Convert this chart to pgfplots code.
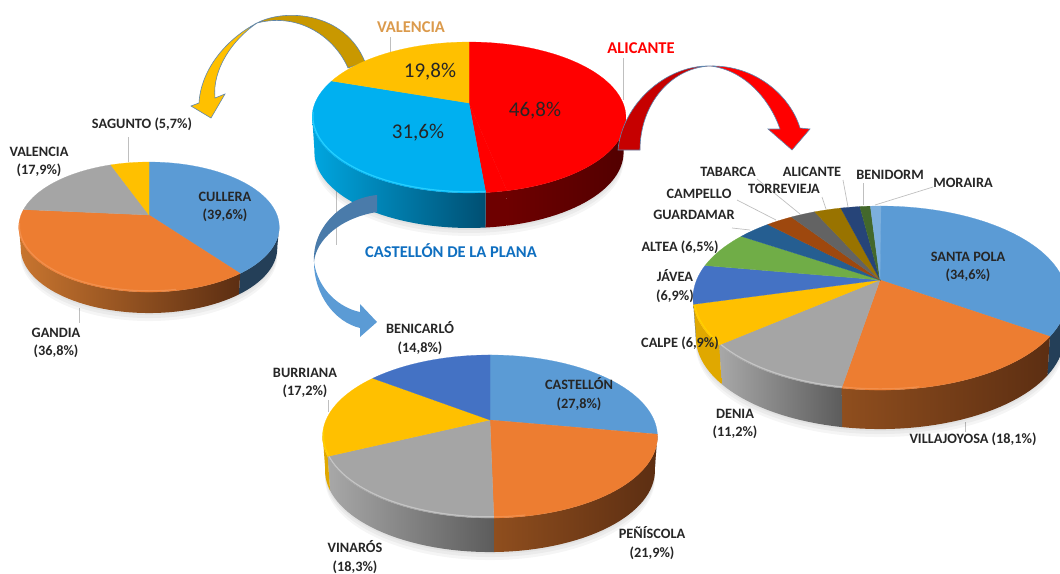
\documentclass[border=0pt]{standalone}
\usepackage{fontspec}
\setmainfont{Carlito}
\usepackage{pgfplots}
\usepackage{pgfplotstable}
\pgfplotsset{compat=1.18}

\definecolor{cBlue}{HTML}{5B9BD5}
\definecolor{cOrange}{HTML}{ED7D31}
\definecolor{cGray}{HTML}{A5A5A5}
\definecolor{cYellow}{HTML}{FFC000}
\definecolor{cRoyal}{HTML}{4472C4}
\definecolor{cGreen}{HTML}{70AD47}
\definecolor{cSteel}{HTML}{255E91}
\definecolor{cRust}{HTML}{9E480E}
\definecolor{cDGray}{HTML}{636363}
\definecolor{cOlive}{HTML}{997300}
\definecolor{cNavy}{HTML}{264478}
\definecolor{cDGreen}{HTML}{43682B}
\definecolor{cSky}{HTML}{7CAFDD}
\definecolor{cRed}{HTML}{FF0000}
\definecolor{cCyan}{HTML}{00B0F0}
\definecolor{wBlue}{HTML}{243F58}
\definecolor{wOrangeL}{HTML}{C8752F}
\definecolor{wOrangeM}{HTML}{8F4E1E}
\definecolor{wOrangeR}{HTML}{5C2E12}
\definecolor{wGrayL}{HTML}{A8A8A8}
\definecolor{wGrayR}{HTML}{5C5C5C}
\definecolor{wYellow}{HTML}{E0A800}
\definecolor{wRedL}{HTML}{6E0000}
\definecolor{wRedR}{HTML}{520000}
\definecolor{wCyanL}{HTML}{00A6E0}
\definecolor{wCyanR}{HTML}{004F72}
\definecolor{rBlue}{HTML}{5B9BD5}
\definecolor{rOrange}{HTML}{F28F4C}
\definecolor{rGray}{HTML}{C4C4C4}
\definecolor{rYellow}{HTML}{FFD000}
\definecolor{rCyan}{HTML}{25CFFF}
\definecolor{leader}{HTML}{BFBFBF}
\definecolor{txt}{HTML}{262626}
\definecolor{arrowline}{HTML}{5F86AE}
\definecolor{aGold}{HTML}{C99800}
\definecolor{aDRed}{HTML}{C60000}
\definecolor{aDBlue}{HTML}{4A7BAA}
\definecolor{hOrange}{HTML}{DB9A4C}
\definecolor{hBlue}{HTML}{0F6FC0}

% share, face, wall left, wall right, rim highlight
\pgfplotstableread{
share face wl wr rim
46.8 cRed wRedL wRedR cRed
1.8 cRed wRedL wRedL cRed
31.6 cCyan wCyanL wCyanR rCyan
19.8 cYellow wYellow wYellow rYellow
}\provincias
\pgfplotstableread{
share face wl wr rim
39.6 cBlue wBlue wBlue rBlue
36.8 cOrange wOrangeL wOrangeR rOrange
17.9 cGray wGrayL wGrayR rGray
5.7 cYellow wYellow wYellow rYellow
}\valencia
\pgfplotstableread{
share face wl wr rim
27.8 cBlue wBlue wBlue rBlue
21.9 cOrange wOrangeM wOrangeR rOrange
18.3 cGray wGrayL wGrayR rGray
17.2 cYellow wYellow wYellow rYellow
14.8 cRoyal cRoyal cRoyal cRoyal
}\castellon
\pgfplotstableread{
share face wl wr rim
34.6 cBlue wBlue wBlue rBlue
18.1 cOrange wOrangeM wOrangeR rOrange
11.2 cGray wGrayL wGrayR rGray
6.9 cYellow wYellow wYellow rYellow
6.9 cRoyal cRoyal cRoyal cRoyal
6.5 cGreen cGreen cGreen cGreen
3.5 cSteel cSteel cSteel cSteel
2.8 cRust cRust cRust cRust
2.6 cDGray cDGray cDGray cDGray
2.8 cOlive cOlive cOlive cOlive
2.0 cNavy cNavy cNavy cNavy
1.1 cDGreen cDGreen cDGreen cDGreen
1.1 cSky cSky cSky cSky
}\alicante

% point of the rim in perspective, #1 = degrees clockwise from the top
\newcommand\rimxy[1]{%
  \pgfmathsetmacro\ps{1/(1+\Pk*cos(#1))}%
  \pgfmathsetmacro\px{\Pax+\PA*sin(#1)*\ps}%
  \pgfmathsetmacro\py{\Pay-\PB*cos(#1)*\ps}%
}
% append arc: from, to, x shrink, y shift
\newcommand\addarc[4]{%
  \pgfmathtruncatemacro\stepn{max(1,ceil(abs(#2-#1)/2.5))}%
  \foreach \j in {0,...,\stepn}{%
    \pgfmathsetmacro\th{#1+(#2-#1)*(\j/\stepn)}%
    \rimxy{\th}%
    \pgfmathsetmacro\qx{\Pax+(\px-\Pax)*#3}%
    \pgfmathsetmacro\qy{\py+#4}%
    \xdef\coords{\coords (\qx,\qy)}%
  }%
}
% table, apex x, apex y, A, B, k, depth
\newcommand\drawpie[7]{%
  \def\Pax{#2}\def\Pay{#3}\def\PA{#4}\def\PB{#5}\def\Pk{#6}\def\Pd{#7}%
  % soft shadow
  \foreach \sh in {8,5,2}{%
    \pgfmathsetmacro\shy{\Pd+\sh}%
    \gdef\coords{}\addarc{0}{360}{0.985}{\shy}%
    \edef\temp{\noexpand\addplot[fill=black,fill opacity=0.04,draw=none,forget plot] coordinates {\coords} --cycle;}\temp
  }%
  \pgfplotstablegetrowsof{#1}\pgfmathtruncatemacro\nrows{\pgfplotsretval-1}%
  % walls, only between the two silhouette points
  \gdef\cum{0}%
  \foreach \i in {0,...,\nrows}{%
    \pgfplotstablegetelem{\i}{share}\of{#1}\edef\sv{\pgfplotsretval}%
    \pgfplotstablegetelem{\i}{wl}\of{#1}\edef\cl{\pgfplotsretval}%
    \pgfplotstablegetelem{\i}{wr}\of{#1}\edef\cr{\pgfplotsretval}%
    \pgfmathsetmacro\ta{\cum*3.6}%
    \pgfmathsetmacro\tb{(\cum+\sv)*3.6}%
    \pgfmathsetmacro\ca{max(\ta,100)}%
    \pgfmathsetmacro\cb{min(\tb,260)}%
    \pgfmathparse{\ca<\cb?1:0}%
    \ifdim\pgfmathresult pt>0.5pt
      \gdef\coords{}\addarc{\ca}{\cb}{1}{0}\addarc{\cb}{\ca}{0.985}{\Pd}%
      \edef\temp{\noexpand\addplot[left color=\cl,right color=\cr,draw=none,forget plot] coordinates {\coords} --cycle;}\temp
    \fi
    \pgfmathsetmacro\nc{\cum+\sv}\xdef\cum{\nc}%
  }%
  % faces and rim light
  \gdef\cum{0}%
  \foreach \i in {0,...,\nrows}{%
    \pgfplotstablegetelem{\i}{share}\of{#1}\edef\sv{\pgfplotsretval}%
    \pgfplotstablegetelem{\i}{face}\of{#1}\edef\cf{\pgfplotsretval}%
    \pgfplotstablegetelem{\i}{rim}\of{#1}\edef\cm{\pgfplotsretval}%
    \pgfmathsetmacro\ta{\cum*3.6}%
    \pgfmathsetmacro\tb{(\cum+\sv)*3.6}%
    \xdef\coords{(\Pax,\Pay)}\addarc{\ta}{\tb}{1}{0}%
    \edef\temp{\noexpand\addplot[fill=\cf,draw=\cf,line width=0.2pt,forget plot] coordinates {\coords} --cycle;}\temp
    \pgfmathsetmacro\ca{max(\ta,170)}%
    \pgfmathsetmacro\cb{min(\tb,262)}%
    \pgfmathparse{\ca<\cb?1:0}%
    \ifdim\pgfmathresult pt>0.5pt
      \gdef\coords{}\addarc{\ca}{\cb}{0.995}{-1.2}%
      \edef\temp{\noexpand\addplot[draw=\cm,line width=1.2pt,forget plot] coordinates {\coords};}\temp
    \fi
    \pgfmathsetmacro\nc{\cum+\sv}\xdef\cum{\nc}%
  }%
}
\newcommand\leader[4]{\addplot[leader,line width=0.7pt,forget plot] coordinates {(#1,#2) (#3,#4)};}
\newcommand\lab[3]{\node[txt,align=center,inner sep=0pt,font=\fontsize{14.3}{18.5}\selectfont\bfseries] at (#1,#2) {#3};}
\newcommand\pct[3]{\node[txt,inner sep=0pt,font=\fontsize{21}{23}\selectfont] at (#1,#2) {#3};}
\newcommand\head[4]{\node[#4,inner sep=0pt,font=\fontsize{16.5}{18}\selectfont\bfseries] at (#1,#2) {#3};}

\begin{document}
\begin{tikzpicture}
\begin{axis}[
    width=1060pt, height=573pt, scale only axis,
    xmin=0, xmax=1060, ymin=0, ymax=573,
    y dir=reverse,
    hide axis,
    name=main,
]
% leaders behind the pies
\leader{390}{37}{390}{52}
\leader{623}{58}{623}{100}
\leader{336}{190}{336}{245}
\leader{128}{137}{128}{162}
\leader{79}{308}{79}{323}
\leader{328}{400}{328}{412}
\leader{757}{179}{800}{214}
\leader{822}{197}{826}{209}
\leader{843}{180}{848}{207}
\leader{863}{183}{863}{205}
\leader{933}{187}{875}{205}
\leader{737}{200}{776}{220}
\leader{732}{228}{750}{230}
\leader{965}{422}{965}{432}

% yellow arrow goes under the big pie
\path[fill=cYellow,draw=arrowline,line width=0.6pt]
  (257,23) .. controls (228,38) and (201,68) .. (199,103) -- (191,106) -- (211,118) -- (225,94) -- (215,98)
  .. controls (212,70) and (232,40) .. (257,23) -- cycle;
\path[fill=aGold,draw=arrowline,line width=0.6pt]
  (257,23) .. controls (285,8) and (345,12) .. (365,62) -- (348,68)
  .. controls (335,38) and (300,12) .. (257,23) -- cycle;

\drawpie{\valencia}{149}{215}{128}{62.8}{0.185}{21}
\drawpie{\castellon}{490}{420}{164}{78.2}{0.2025}{34}
\drawpie{\alicante}{880}{280}{183.4}{88.5}{0.196}{39}
\drawpie{\provincias}{469}{103}{154}{72.7}{0.192}{35}

% red arrow
\path[fill=aDRed,draw=arrowline,line width=0.6pt]
  (618,150) .. controls (622,105) and (665,65) .. (710,66)
  .. controls (670,68) and (640,105) .. (640,150) -- cycle;
\path[fill=cRed,draw=arrowline,line width=0.6pt]
  (710,66) .. controls (755,65) and (790,95) .. (800,128) -- (810,129) -- (792,150) -- (768,129) -- (780,129)
  .. controls (770,100) and (745,70) .. (710,66) -- cycle;
% blue arrow
\path[fill=aDBlue]
  (377,195) .. controls (345,198) and (312,225) .. (314,262)
  .. controls (316,240) and (340,218) .. (377,212) -- cycle;
\path[fill=cBlue]
  (314,262) .. controls (314,295) and (335,322) .. (360,328) -- (360,337) -- (377,322) -- (360,304) -- (360,312)
  .. controls (340,308) and (318,290) .. (314,262) -- cycle;

% group names
\head{411}{27}{VALENCIA}{hOrange}
\head{641}{48}{ALICANTE}{red}
\head{451}{251}{CASTELLÓN DE LA PLANA}{hBlue}
\pct{430}{72}{19,8\%}
\pct{535}{111}{46,8\%}
\pct{418}{133}{31,6\%}

\lab{142}{124}{SAGUNTO (5,7\%)}
\lab{39}{162}{VALENCIA\\(17,9\%)}
\lab{225}{207}{CULLERA\\(39,6\%)}
\lab{56}{343}{GANDIA\\(36,8\%)}

\lab{420}{338}{BENICARLÓ\\(14,8\%)}
\lab{305}{383}{BURRIANA\\(17,2\%)}
\lab{579}{394}{CASTELLÓN\\(27,8\%)}
\lab{652}{543}{PEÑÍSCOLA\\(21,9\%)}
\lab{355}{557}{VINARÓS\\(18,3\%)}

\lab{968}{267}{SANTA POLA\\(34,6\%)}
\lab{728}{172}{TABARCA}
\lab{784}{189}{TORREVIEJA}
\lab{812}{172}{ALICANTE}
\lab{890}{175}{BENIDORM}
\lab{963}{183}{MORAIRA}
\lab{699}{194}{CAMPELLO}
\lab{694}{215}{GUARDAMAR}
\lab{680}{247}{ALTEA (6,5\%)}
\lab{675}{286}{JÁVEA\\(6,9\%)}
\lab{680}{343}{CALPE (6,9\%)}
\lab{735}{424}{DENIA\\(11,2\%)}
\lab{973}{439}{VILLAJOYOSA (18,1\%)}
\end{axis}
\pgfresetboundingbox
\path[use as bounding box] (main.south west) rectangle (main.north east);
\end{tikzpicture}
\end{document}
